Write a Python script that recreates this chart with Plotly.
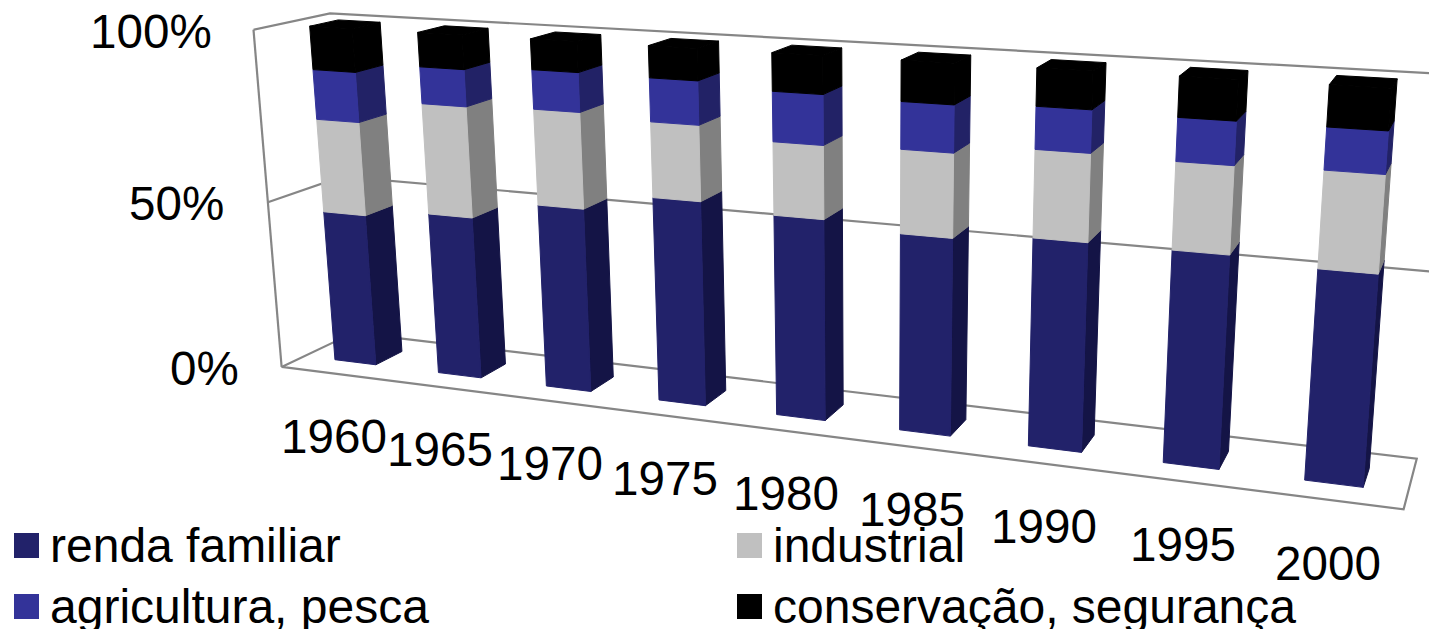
import numpy as np
import plotly.graph_objects as go

years = ["1960", "1965", "1970", "1975", "1980", "1985", "1990", "1995", "2000"]
renda_familiar = [45.5, 47.8, 53.3, 58.3, 56.3, 54.3, 56.3, 56.3, 54.8]
industrial = [27.5, 32, 27.2, 21, 20, 22.5, 23, 22.5, 24.5]
agricultura_pesca = [14.5, 10.5, 11, 12, 13.5, 12.5, 11, 11, 10.5]
conservacao_seguranca = [12.5, 9.7, 8.5, 8.7, 10.2, 10.7, 9.7, 10.2, 10.2]
series_names = ["renda familiar", "agricultura, pesca", "industrial", "conservação, segurança"]
percent_ticks = [0, 50, 100]
percent_labels = ["0%", "50%", "100%"]

stack_order = [
    ("renda familiar", renda_familiar, "#22226A", "#141446"),
    ("industrial", industrial, "#C0C0C0", "#808080"),
    ("agricultura, pesca", agricultura_pesca, "#333399", "#222266"),
    ("conservação, segurança", conservacao_seguranca, "#000000", "#000000"),
]

# Camera of the 3-D chart: world (category, depth 0..1, percent 0..1) -> page pixel
camera_world = np.array([
    (0, 0, 0), (0, 0, 1), (0, 1, 0), (0, 1, 1), (9, 1, 0), (9, 1, 1), (9, 0, 0),
    (0, 0, .5), (9, 1, .5),
    (.3, .31, 0), (.7, .31, 0), (8.3, .31, 0), (8.7, .31, 0), (.7, .69, 0), (8.7, .69, 0), (7.3, .31, 0),
], dtype=float)
camera_page = np.array([
    (282, 367), (253, 30), (354, 332), (330, 13), (1417, 458), (1447, 74), (1404, 508),
    (269, 202), (1431, 272),
    (334, 360), (375, 365), (1305, 480), (1363, 487), (402, 352), (1369, 470), (1163, 463),
], dtype=float)


def fit_camera(world, page):
    rows = []
    for (a, b, c), (u, v) in zip(world, page):
        u, v = u / 1000, v / 1000
        p = [a / 9, b, c, 1]
        rows.append(p + [0, 0, 0, 0] + [-u * q for q in p])
        rows.append([0, 0, 0, 0] + p + [-v * q for q in p])
    return np.linalg.svd(np.array(rows))[2][-1].reshape(3, 4)


CAM = fit_camera(camera_world, camera_page)


def project(cat, depth, pct):
    h = CAM @ np.array([cat / 9, depth, pct / 100, 1.0])
    return 1000 * h[0] / h[2], 1000 * h[1] / h[2]


def add_polys(fig, polys, color, name=None):
    xs, ys = [], []
    for poly in polys:
        pts = [project(*p) for p in poly] + [project(*poly[0])]
        xs += [p[0] for p in pts] + [None]
        ys += [p[1] for p in pts] + [None]
    fig.add_trace(go.Scatter(x=xs, y=ys, mode="lines", fill="toself", fillcolor=color,
                             line=dict(color=color, width=1), name=name or "", showlegend=False,
                             hoverinfo="skip"))


def add_frame(fig, segs):
    xs, ys = [], []
    for seg in segs:
        for p in seg:
            x, y = project(*p)
            xs.append(x); ys.append(y)
        xs.append(None); ys.append(None)
    fig.add_trace(go.Scatter(x=xs, y=ys, mode="lines", line=dict(color="#868686", width=2.2),
                             showlegend=False, hoverinfo="skip"))


fig = go.Figure()
n = len(years)
frame = [[(0, 0, 0), (0, 0, 100)], [(0, 1, 0), (n, 1, 0), (n, 0, 0), (0, 0, 0), (0, 1, 0)]]
for t in percent_ticks[1:]:
    frame.append([(0, 0, t), (0, 1, t), (n, 1, t)])
add_frame(fig, frame)

GAP, D0, D1 = 0.3, 0.31, 0.69
base = [0.0] * n
for name, vals, front, side in stack_order:
    fronts, sides = [], []
    for i, v in enumerate(vals):
        a, b = i + GAP, i + 1 - GAP
        lo, hi = base[i], base[i] + v
        fronts.append([(a, D0, lo), (b, D0, lo), (b, D0, hi), (a, D0, hi)])
        sides.append([(b, D0, lo), (b, D1, lo), (b, D1, hi), (b, D0, hi)])
        base[i] = hi
    add_polys(fig, sides, side, name)
    add_polys(fig, fronts, front, name)
tops = [[(i + GAP, D0, base[i]), (i + 1 - GAP, D0, base[i]), (i + 1 - GAP, D1, base[i]), (i + GAP, D1, base[i])]
        for i in range(n)]
add_polys(fig, tops, "#000000")

# Legend swatches
swatch_colors = {s[0]: s[2] for s in stack_order}
legend_x = [26.5, 26.5, 749.5, 749.5]
legend_y = [545.5, 606.5, 545.5, 606.5]
fig.add_trace(go.Scatter(x=legend_x, y=legend_y, mode="markers", showlegend=False, hoverinfo="skip",
                         marker=dict(symbol="square", size=25, color=[swatch_colors[k] for k in series_names],
                                     line=dict(width=0))))

FONT = "Liberation Sans, Arial, sans-serif"
anns = []


def label(text, x, y, anchor, size=47.6):
    anns.append(dict(text=text, x=x, y=y, xref="x", yref="y", xanchor=anchor, yanchor="middle",
                     showarrow=False, font=dict(family=FONT, size=size, color="#000000"),
                     borderpad=0, align="left"))


year_cx = [334, 440, 550, 664.5, 785.5, 912, 1044, 1183, 1328]
year_cy = [436, 449, 463, 478, 493, 509, 526, 544, 563]
for t, x, y in zip(years, year_cx, year_cy):
    label(t, x, y, "center")
for t, x, y in zip(percent_labels, [240, 225, 213], [368, 203, 31]):
    label(t, x, y, "right")
for t, x, y in zip(series_names, [49, 49, 772, 772], [545, 606, 545, 606]):
    label(t, x, y, "left", 48)

fig.update_layout(
    width=1429, height=629, margin=dict(l=0, r=0, t=0, b=0),
    paper_bgcolor="white", plot_bgcolor="white", showlegend=False, annotations=anns,
    xaxis=dict(range=[0, 1429], visible=False, fixedrange=True),
    yaxis=dict(range=[629, 0], visible=False, fixedrange=True),
)
fig.write_html("out.html", config={"displayModeBar": False},
               post_script="document.body.style.margin='0';document.documentElement.style.overflow='hidden';")
